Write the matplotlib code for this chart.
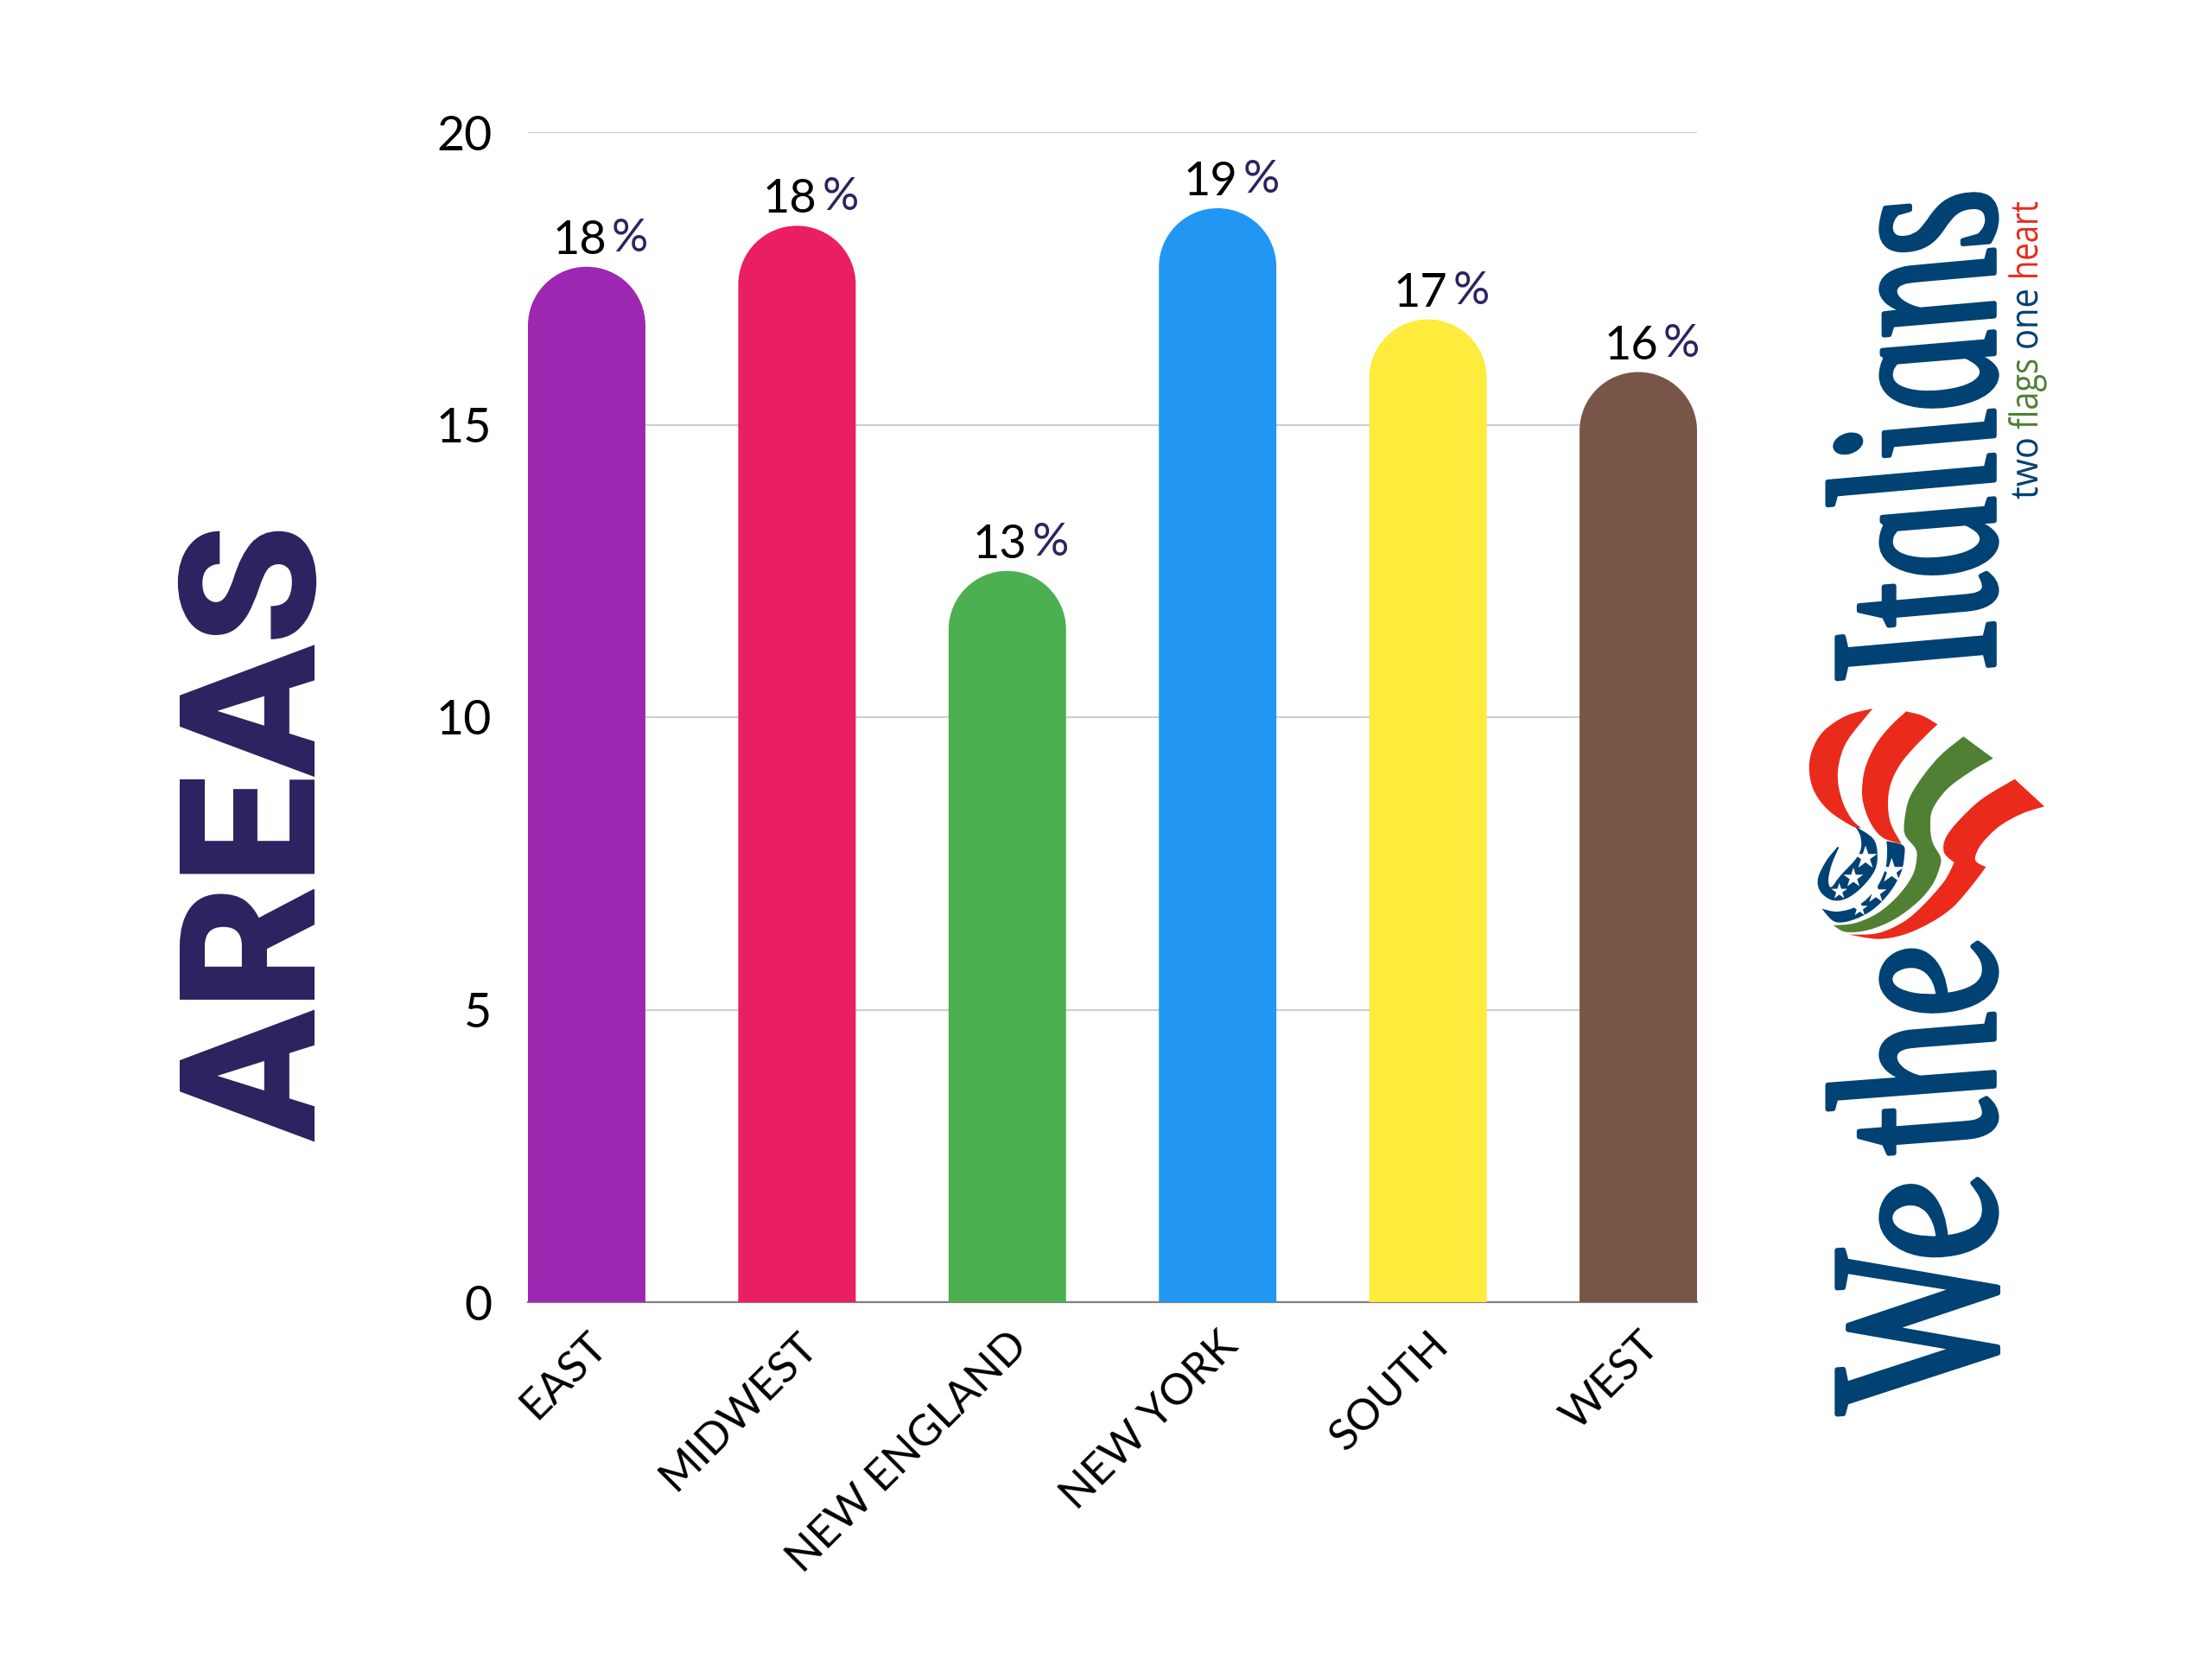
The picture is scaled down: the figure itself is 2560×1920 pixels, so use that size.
import matplotlib
matplotlib.use("Agg")
import matplotlib.pyplot as plt
import matplotlib.patheffects as pe
from matplotlib.patches import PathPatch
from matplotlib.path import Path
from matplotlib.transforms import Affine2D, ScaledTranslation

# --- DATA ---
AREAS = ['EAST', 'MIDWEST', 'NEW ENGLAND', 'NEW YORK', 'SOUTH', 'WEST']
VALUES = [17.7, 18.4, 12.5, 18.7, 16.8, 15.9]
LABELS = ['18', '18', '13', '19', '17', '16']
COLORS = ['#9c27b0', '#e91e63', '#4caf50', '#2196f3', '#ffeb3b', '#795548']
Y_TICKS = [0, 5, 10, 15, 20]

NAVY = '#2c2361'
LOGO_BLUE = '#004273'
LOGO_RED = '#ea2a1b'
LOGO_GREEN = '#4f8034'

W, H = 2560, 1920
AX_L, AX_R, AX_T, AX_B = 611, 1964, 153, 1507
BAR_PX, PITCH_PX = 136, 243.5
FONT = 'Lato'
KAPPA = 0.5523

plt.rcParams['font.family'] = [FONT, 'DejaVu Sans']


class Stretch(pe.AbstractPathEffect):
    """Rozciaga tekst w poprzek linii pisma, shear prostuje kursywe logo."""
    def __init__(self, factor, anchor_x, anchor_y, shear=0.0, shear_x=None, stroke=0.0):
        super().__init__()
        self.factor = factor
        self.anchor_x = anchor_x
        self.anchor_y = anchor_y
        self.shear = shear
        self.shear_x = anchor_x if shear_x is None else shear_x
        self.stroke = stroke

    def draw_path(self, renderer, gc, tpath, affine, rgbFace=None):
        squeeze = (Affine2D().translate(-self.anchor_x, 0)
                   .scale(self.factor, 1)
                   .translate(self.anchor_x - self.shear_x, -self.anchor_y)
                   .skew(0, self.shear)
                   .translate(self.shear_x, self.anchor_y))
        gc2 = renderer.new_gc()
        gc2.copy_properties(gc)
        if self.stroke:
            gc2.set_linewidth(self.stroke)
            gc2.set_foreground(rgbFace)
        renderer.draw_path(gc2, tpath, affine + squeeze, rgbFace)
        gc2.restore()


def rounded_top(x, width, height, ry):
    rx = width / 2
    left, right = x - rx, x + rx
    verts = [(left, 0), (left, height - ry),
             (left, height - ry + KAPPA * ry), (x - KAPPA * rx, height), (x, height),
             (x + KAPPA * rx, height), (right, height - ry + KAPPA * ry), (right, height - ry),
             (right, 0), (left, 0)]
    codes = [Path.MOVETO, Path.LINETO, Path.CURVE4, Path.CURVE4, Path.CURVE4,
             Path.CURVE4, Path.CURVE4, Path.CURVE4, Path.LINETO, Path.CLOSEPOLY]
    return Path(verts, codes)


def smooth(points):
    """Catmull-Rom przez punkty, zwraca liste krzywych."""
    pts = [points[0]] + list(points) + [points[-1]]
    out = []
    for i in range(1, len(pts) - 2):
        p0, p1, p2, p3 = pts[i - 1], pts[i], pts[i + 1], pts[i + 2]
        c1 = (p1[0] + (p2[0] - p0[0]) / 6, p1[1] + (p2[1] - p0[1]) / 6)
        c2 = (p2[0] - (p3[0] - p1[0]) / 6, p2[1] - (p3[1] - p1[1]) / 6)
        out += [c1, c2, p2]
    return out


def swoosh(ov, edges, color):
    """Ksztalt logo z gladkich krawedzi, wspolrzedne z wycinka od (2080, 810), skala 3."""
    verts, codes = [], []
    for edge in edges:
        edge = [(2080 + px / 3, 810 + py / 3) for px, py in edge]
        codes.append(Path.LINETO if verts else Path.MOVETO)
        verts.append(edge[0])
        curve = smooth(edge)
        verts += curve
        codes += [Path.CURVE4] * len(curve)
    verts.append(verts[0])
    codes.append(Path.CLOSEPOLY)
    ov.add_patch(PathPatch(Path(verts, codes), facecolor=color, edgecolor='none'))


def vertical_text(ov, text, x_base, y_top, y_bottom, renderer, fontsize, shear=0.0, shear_h=0.0, stroke=0.0, **kw):
    # czcionka dobrana do dlugosci napisu, wysokosc liter dochodzi przez Stretch
    t = ov.text(x_base, y_bottom, text, rotation=90, rotation_mode='anchor',
                ha='left', va='baseline', fontsize=fontsize, **kw)
    ratio = (y_bottom - y_top) / t.get_window_extent(renderer).height
    t.set_fontsize(fontsize * ratio)
    t.set_path_effects([Stretch(1 / ratio, x_base, H - y_bottom, shear, x_base - shear_h, stroke)])
    return t


fig = plt.figure(figsize=(W / 100, H / 100), dpi=100, facecolor='white')
ax = fig.add_axes([AX_L / W, 1 - AX_B / H, (AX_R - AX_L) / W, (AX_B - AX_T) / H])

half = BAR_PX / 2 / PITCH_PX
bar_w = BAR_PX / PITCH_PX
ax.set_xlim(-half, len(AREAS) - 1 + half)
ax.set_ylim(0, 20)
ry = (BAR_PX / 2) * 20 / (AX_B - AX_T)

for i, (val, col, lab) in enumerate(zip(VALUES, COLORS, LABELS)):
    ax.add_patch(PathPatch(rounded_top(i, bar_w, val, ry), facecolor=col, edgecolor='none', zorder=3))
    ax.annotate(lab, xy=(i, val), xytext=(23, 15), textcoords='offset pixels',
                ha='right', va='baseline', fontsize=39, color='black', zorder=4)
    ax.annotate('%', xy=(i, val), xytext=(29, 18), textcoords='offset pixels',
                ha='left', va='baseline', fontsize=38, color=NAVY, zorder=4)

ax.set_yticks(Y_TICKS)
ax.set_xticks(range(len(AREAS)))
ax.set_xticklabels(AREAS, rotation=45, ha='right', va='center', rotation_mode='anchor', fontsize=36)
ax.tick_params(axis='y', length=0, pad=30, labelsize=40)
ax.tick_params(axis='x', length=0, pad=31)
offset = ScaledTranslation(16 / 100, 0, fig.dpi_scale_trans)
for lab in ax.get_xticklabels():
    lab.set_transform(lab.get_transform() + offset)

ax.grid(axis='y', color='#cfcfcf', linewidth=1.6, zorder=0)
ax.set_axisbelow(True)
for name in ['top', 'right', 'left']:
    ax.spines[name].set_visible(False)
ax.spines['bottom'].set_color('#808080')
ax.spines['bottom'].set_linewidth(1.6)

# --- NAPIS I LOGO ---
ov = fig.add_axes([0, 0, 1, 1])
ov.set_xlim(0, W)
ov.set_ylim(H, 0)
ov.axis('off')
ov.patch.set_alpha(0)
renderer = fig.canvas.get_renderer()

vertical_text(ov, 'AREAS', 364, 607, 1321, renderer, fontsize=158, family='Roboto',
              fontweight='black', color=NAVY)

serif = dict(fontsize=200, family='Liberation Serif', style='italic', color=LOGO_BLUE,
             shear=0.2, shear_h=95, stroke=4)
vertical_text(ov, 'We', 2308, 1367, 1635, renderer, **serif)
vertical_text(ov, 'the', 2308, 1095, 1339, renderer, **serif)
vertical_text(ov, 'Italians', 2308, 229, 788, renderer, **serif)

tag = dict(fontsize=32, family='Open Sans')
vertical_text(ov, 'two', 2358, 506, 578, renderer, color=LOGO_BLUE, **tag)
vertical_text(ov, 'flags', 2358, 415, 497, renderer, color=LOGO_GREEN, **tag)
vertical_text(ov, 'one', 2358, 334, 405, renderer, color=LOGO_BLUE, **tag)
vertical_text(ov, 'heart', 2358, 233, 324, renderer, color=LOGO_RED, **tag)

swoosh(ov, [[(262, 30), (170, 55), (90, 110), (50, 180), (42, 250), (60, 320), (110, 385), (190, 438), (222, 445)],
            [(222, 445), (190, 415), (160, 360), (142, 290), (145, 220), (175, 140), (262, 30)]], LOGO_RED)
swoosh(ov, [[(378, 40), (435, 55), (487, 85)],
            [(487, 85), (420, 150), (360, 220), (325, 290), (315, 360), (325, 430), (362, 500)],
            [(362, 500), (300, 480), (262, 440), (235, 380), (225, 320), (235, 240), (270, 160), (320, 95), (378, 40)]], LOGO_RED)
swoosh(ov, [[(577, 127), (680, 203)],
            [(680, 203), (600, 250), (520, 310), (470, 380), (462, 440), (470, 495), (497, 545), (495, 580),
             (470, 640), (420, 700), (340, 760), (250, 798), (170, 806), (125, 783)],
            [(125, 783), (200, 775), (280, 740), (350, 680), (400, 610), (415, 550), (410, 515), (375, 470),
             (372, 420), (390, 340), (440, 260), (500, 190), (577, 127)]], LOGO_GREEN)
swoosh(ov, [[(755, 275), (858, 370)],
            [(858, 370), (780, 395), (700, 440), (640, 500), (618, 545), (625, 565), (655, 580)],
            [(655, 580), (610, 640), (540, 720), (460, 775), (370, 815), (280, 830), (180, 815)],
            [(180, 815), (280, 810), (370, 770), (440, 710), (510, 630), (545, 565)],
            [(545, 565), (510, 530), (515, 480), (560, 420), (640, 345), (755, 275)]], LOGO_RED)
swoosh(ov, [[(140, 510), (100, 560), (72, 620), (80, 665), (120, 695), (170, 690), (225, 650), (270, 590),
             (278, 530), (262, 480), (200, 438)],
            [(200, 438), (218, 470), (222, 510), (205, 550), (150, 610), (118, 650), (108, 625), (120, 570), (145, 512)]], LOGO_BLUE)
swoosh(ov, [[(310, 490), (367, 505), (372, 540), (360, 600), (320, 670), (260, 730), (190, 765), (130, 770), (85, 725)],
            [(85, 725), (140, 735), (210, 715), (270, 660), (305, 590), (312, 530), (310, 490)]], LOGO_BLUE)

star_x = [237, 195, 146, 328, 273, 217]
star_y = [548, 618, 665, 594, 670, 724]
star_s = [1250, 900, 600, 1450, 1050, 600]
ov.scatter([2080 + v / 3 for v in star_x], [810 + v / 3 for v in star_y], s=[v / 3 for v in star_s],
           marker='*', color='white', linewidths=0, zorder=5)

fig.savefig('out.png', dpi=100)
